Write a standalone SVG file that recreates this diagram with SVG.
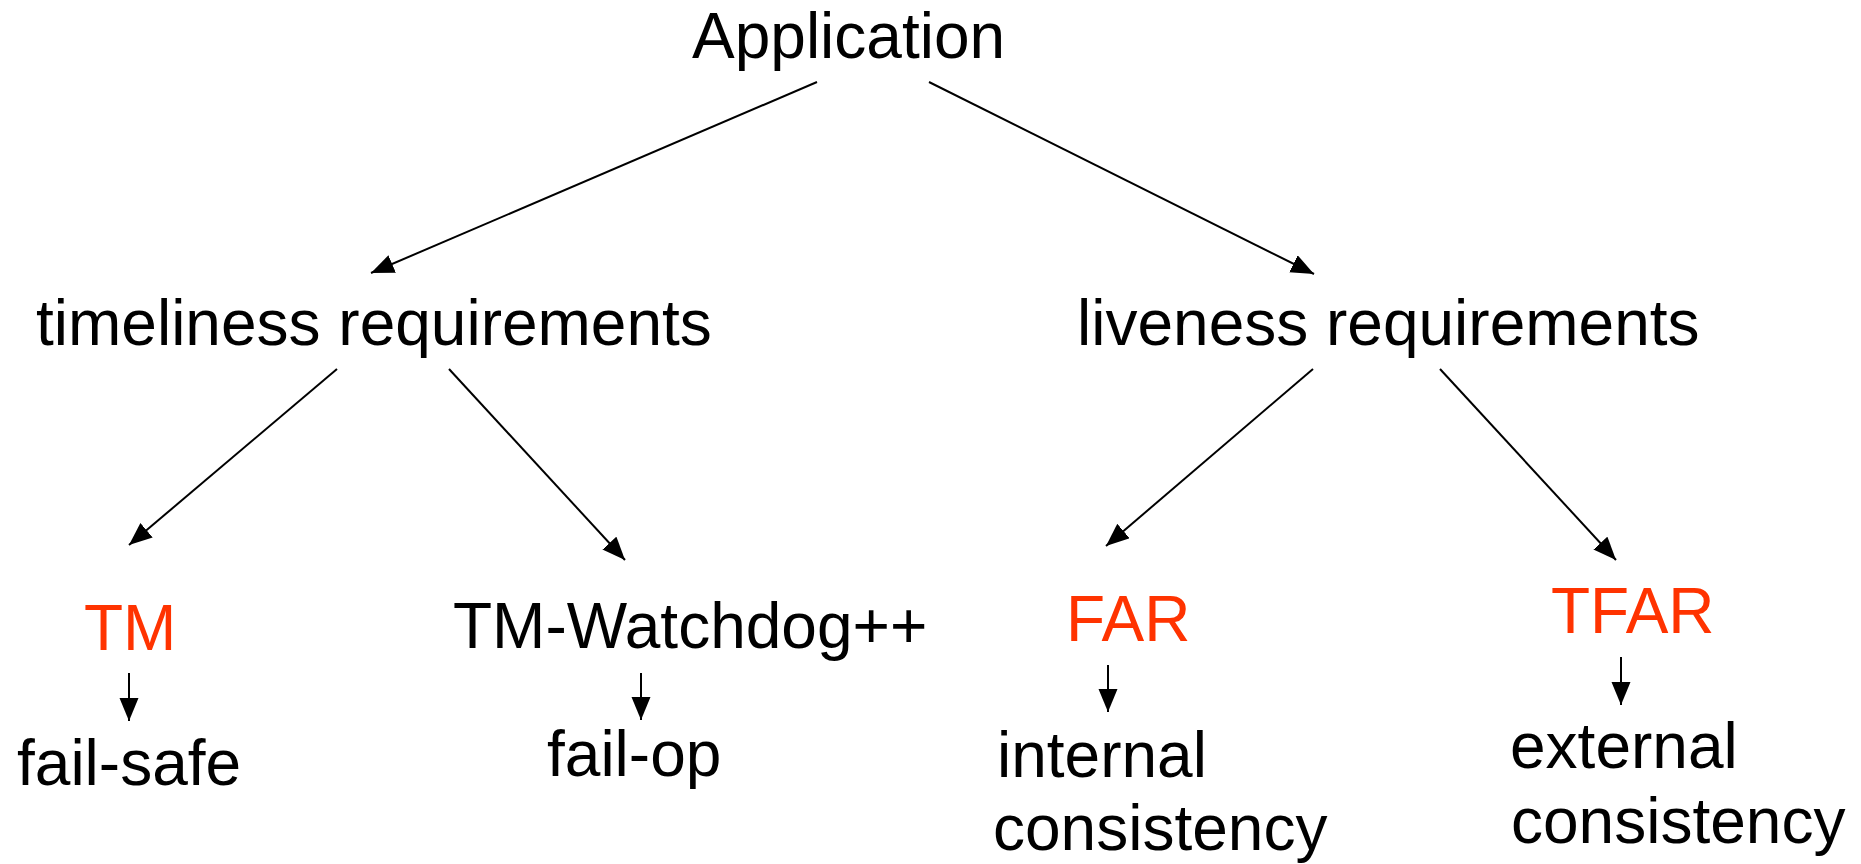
<svg xmlns="http://www.w3.org/2000/svg" width="1861" height="864" viewBox="0 0 1861 864">
  <style>
    .lbl { font-family: "Liberation Sans", Arial, sans-serif; font-size: 64px; fill: #000; }
    .red { fill: #FF3300; }
    .edge { stroke: #000; stroke-width: 2; fill: none; marker-end: url(#arrow); }
  </style>
  <defs>
    <marker id="arrow" markerUnits="userSpaceOnUse" markerWidth="24" markerHeight="20" refX="23" refY="9.5" orient="auto">
      <path d="M0,0 L23,9.5 L0,19 z" fill="#000"/>
    </marker>
  </defs>
  <rect width="1861" height="864" fill="#fff"/>

  <g id="connectors">
    <line class="edge" x1="817" y1="82" x2="371" y2="273"/>
    <line class="edge" x1="929" y1="82" x2="1314" y2="274"/>
    <line class="edge" x1="337" y1="369" x2="129" y2="545"/>
    <line class="edge" x1="449" y1="369" x2="625" y2="560"/>
    <line class="edge" x1="1313" y1="369" x2="1106" y2="546"/>
    <line class="edge" x1="1440" y1="369" x2="1616" y2="560"/>
    <line class="edge" x1="129" y1="673" x2="129" y2="721"/>
    <line class="edge" x1="641" y1="673" x2="641" y2="720"/>
    <line class="edge" x1="1108" y1="665" x2="1108" y2="712"/>
    <line class="edge" x1="1621" y1="657" x2="1621" y2="705"/>
  </g>

  <g id="application"><text class="lbl" x="692" y="58">Application</text></g>
  <g id="timeliness"><text class="lbl" x="36" y="345">timeliness requirements</text></g>
  <g id="liveness"><text class="lbl" x="1077" y="345">liveness requirements</text></g>
  <g id="tm"><text class="lbl red" x="84" y="650">TM</text></g>
  <g id="tm-watchdog"><text class="lbl" x="453" y="648">TM-Watchdog++</text></g>
  <g id="far"><text class="lbl red" x="1066" y="641">FAR</text></g>
  <g id="tfar"><text class="lbl red" x="1551" y="633">TFAR</text></g>
  <g id="fail-safe"><text class="lbl" x="17" y="785">fail-safe</text></g>
  <g id="fail-op"><text class="lbl" x="547" y="776">fail-op</text></g>
  <g id="internal-consistency">
    <text class="lbl" x="997" y="777">internal</text>
    <text class="lbl" x="993" y="850">consistency</text>
  </g>
  <g id="external-consistency">
    <text class="lbl" x="1510" y="768">external</text>
    <text class="lbl" x="1511" y="843">consistency</text>
  </g>
</svg>
